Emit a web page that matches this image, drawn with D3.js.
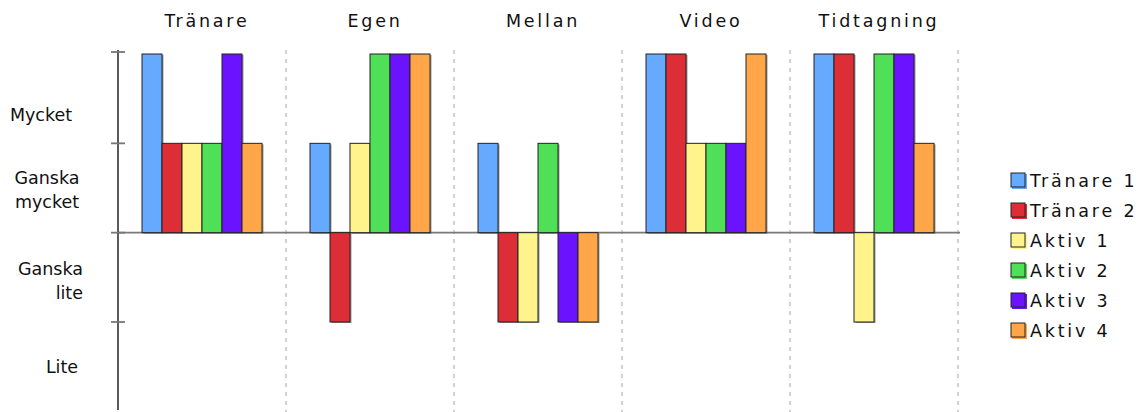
<!DOCTYPE html>
<html><head><meta charset="utf-8">
<script src="https://cdn.jsdelivr.net/npm/d3@7"></script>
<style>body{margin:0;background:#fff}svg{display:block;font-family:"DejaVu Sans",Verdana,sans-serif}</style>
</head><body><svg id="c" width="1143" height="412"></svg>
<script>
const categories = ["Tränare","Egen","Mellan","Video","Tidtagning"];
const seriesNames = ["Tränare 1","Tränare 2","Aktiv 1","Aktiv 2","Aktiv 3","Aktiv 4"];
const tranare1 = [2, 1, 1, 2, 2];
const tranare2 = [1, -1, -1, 2, 2];
const aktiv1   = [1, 1, -1, 1, -1];
const aktiv2   = [1, 2, 1, 1, 2];
const aktiv3   = [2, 2, -1, 1, 2];
const aktiv4   = [1, 2, -1, 2, 1];
const levelLabels = [["Mycket"],["Ganska","mycket"],["Ganska","lite"],["Lite"]];
const tickValues = [-1, 0, 1, 2];

const seriesValues = [tranare1, tranare2, aktiv1, aktiv2, aktiv3, aktiv4];
const colors = ["#66aaff","#dd2d36","#fff38b","#4fe057","#6b12ff","#ffa748"];

const svg = d3.select("#c");
const x = d3.scaleBand().domain(categories).range([118, 958]);
const xi = d3.scaleBand().domain(seriesNames).range([24, 144]);
const y = d3.scaleLinear().domain([-1, 2]).range([322, 54]);

// dashed separators
svg.append("g").selectAll("line").data(categories).join("line")
  .attr("x1", d => x(d) + x.bandwidth()).attr("x2", d => x(d) + x.bandwidth())
  .attr("y1", 50).attr("y2", 412)
  .attr("stroke", "#b4b4b4").attr("stroke-width", 1.2).attr("stroke-dasharray", "4,5");

// baseline
svg.append("line").attr("x1", 118).attr("x2", 960).attr("y1", y(0)).attr("y2", y(0))
  .attr("stroke", "#7a7a7a").attr("stroke-width", 1.6);

// bars
const rows = [];
categories.forEach((c, ci) => seriesNames.forEach((s, si) => rows.push({c, s, si, v: seriesValues[si][ci]})));
const bars = svg.append("g");
bars.selectAll("rect.sh").data(rows).join("rect").attr("class","sh")
  .attr("x", d => x(d.c) + xi(d.s) + 1.5)
  .attr("y", d => Math.min(y(d.v), y(0)) + 1)
  .attr("width", xi.bandwidth())
  .attr("height", d => Math.abs(y(d.v) - y(0)))
  .attr("fill", "#555").attr("opacity", 0.6);
bars.selectAll("rect.b").data(rows).join("rect").attr("class","b")
  .attr("x", d => x(d.c) + xi(d.s))
  .attr("y", d => Math.min(y(d.v), y(0)))
  .attr("width", xi.bandwidth())
  .attr("height", d => Math.abs(y(d.v) - y(0)))
  .attr("fill", d => colors[d.si]).attr("stroke", "#222").attr("stroke-width", 1);

// y axis
svg.append("line").attr("x1", 118).attr("x2", 118).attr("y1", 50).attr("y2", 410)
  .attr("stroke", "#000").attr("stroke-width", 1.3);
svg.append("g").selectAll("line").data(tickValues).join("line")
  .attr("x1", 111).attr("x2", 125).attr("y1", d => y(d) + (d === 2 ? -2 : 0)).attr("y2", d => y(d) + (d === 2 ? -2 : 0))
  .attr("stroke", "#777").attr("stroke-width", 1.8);

// level labels
const labelLayout = [
  {v: 1.32, x: 41, anchor: "middle"},
  {v: 0.48, x: 47, anchor: "middle"},
  {v: -0.54, x: 83, anchor: "end"},
  {v: -1.5, x: 62, anchor: "middle"}
];
levelLabels.forEach((lines, i) => {
  const L = labelLayout[i];
  const t = svg.append("text").attr("font-size", 17.5).attr("fill", "#111")
    .attr("text-anchor", L.anchor);
  lines.forEach((ln, j) => {
    t.append("tspan").attr("x", L.x)
      .attr("y", y(L.v) + 6 + (j - (lines.length - 1) / 2) * 24).text(ln);
  });
});

// category titles
svg.append("g").selectAll("text").data(categories).join("text")
  .attr("x", d => x(d) + x.bandwidth() / 2 + 5).attr("y", 27)
  .attr("text-anchor", "middle").attr("font-size", 17.5).attr("letter-spacing", 2.8)
  .attr("fill", "#111").text(d => d);

// legend
const lg = svg.append("g").selectAll("g").data(seriesNames).join("g")
  .attr("transform", (d, i) => `translate(1011,${173 + i * 30})`);
lg.append("rect").attr("x", 1).attr("y", 1).attr("width", 15).attr("height", 15)
  .attr("fill", (d, i) => colors[i]);
lg.append("rect").attr("x", 0).attr("y", 0).attr("width", 14).attr("height", 14)
  .attr("fill", (d, i) => colors[i]).attr("stroke", "#222").attr("stroke-width", 1);
lg.append("text").attr("x", 19).attr("y", 14).attr("font-size", 17.5)
  .attr("letter-spacing", 2.8).attr("fill", "#111").text(d => d);
</script></body></html>
